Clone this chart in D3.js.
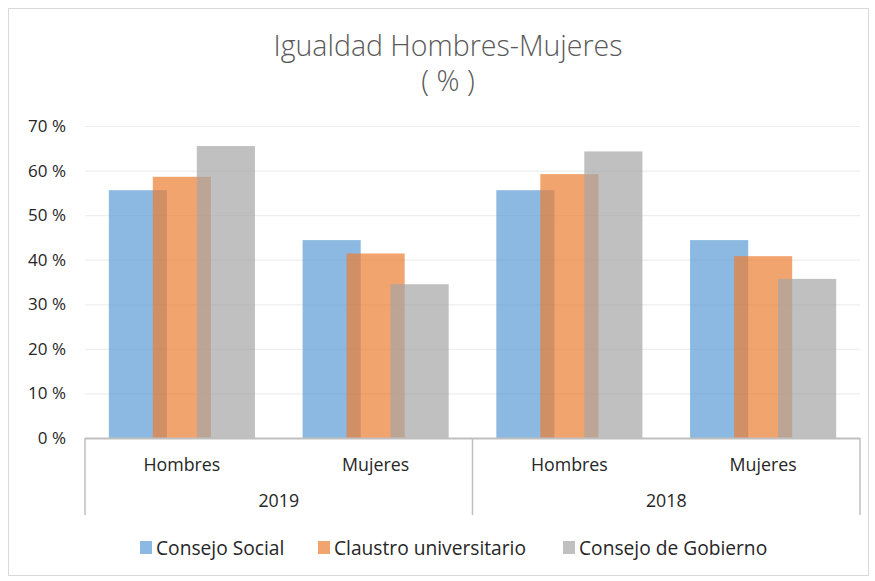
<!DOCTYPE html>
<html>
<head>
<meta charset="utf-8">
<script src="https://cdn.jsdelivr.net/npm/d3@7.9.0/dist/d3.min.js"></script>
<style>
  body { margin: 0; background: #fff; }
  text { font-family: "Open Sans", Lato, sans-serif; }
</style>
</head>
<body>
<div id="chart"></div>
<script>
// Values
const years = ["2019", "2018"];
const genders = ["Hombres", "Mujeres"];
const seriesNames = ["Consejo Social", "Claustro universitario", "Consejo de Gobierno"];
const consejoSocial = [55.6, 44.4, 55.6, 44.4];
const claustroUniversitario = [58.6, 41.4, 59.2, 40.8];
const consejoGobierno = [65.5, 34.5, 64.3, 35.7];
const yTicks = [0, 10, 20, 30, 40, 50, 60, 70];
const seriesColors = ["#5B9BD5", "#ED7D31", "#A5A5A5"];

const width = 875, height = 581;
const margin = { top: 126, right: 15, bottom: 143, left: 85 };

const svg = d3.select("#chart").append("svg")
  .attr("width", width)
  .attr("height", height);

// outer chart border
svg.append("rect")
  .attr("x", 8.5).attr("y", 8.5)
  .attr("width", 860).attr("height", 567)
  .attr("fill", "#fff")
  .attr("stroke", "#D9D9D9");

// title
svg.append("text")
  .attr("x", 448).attr("y", 56)
  .attr("text-anchor", "middle")
  .attr("fill", "#595959")
  .style("font-size", "28.5px")
  .style("font-weight", 300)
  .text("Igualdad Hombres-Mujeres");
svg.append("text")
  .attr("x", 448).attr("y", 91)
  .attr("text-anchor", "middle")
  .attr("fill", "#595959")
  .style("font-size", "28.5px")
  .style("font-weight", 300)
  .text("( % )");

// categories: year x gender
const categories = years.flatMap(y => genders.map(g => ({ year: y, gender: g, key: y + "|" + g })));

const x = d3.scaleBand()
  .domain(categories.map(d => d.key))
  .range([margin.left, width - margin.right])
  .padding(0);

const y = d3.scaleLinear()
  .domain([0, 70])
  .range([height - margin.bottom, margin.top]);

// gridlines
svg.append("g")
  .selectAll("line")
  .data(yTicks.filter(t => t > 0))
  .join("line")
  .attr("x1", margin.left).attr("x2", width - margin.right)
  .attr("y1", d => y(d) + 0.5).attr("y2", d => y(d) + 0.5)
  .attr("stroke", "#EEEEEE")
  .attr("stroke-width", 1.2);

// y axis labels
const yAxis = svg.append("g")
  .attr("transform", `translate(${margin.left},0)`)
  .call(d3.axisLeft(y).tickValues(yTicks).tickSize(0).tickPadding(19).tickFormat(d => d + " %"));
yAxis.select(".domain").remove();
yAxis.selectAll("text")
  .attr("fill", "#262626")
  .style("font-family", "'Open Sans', sans-serif")
  .style("font-size", "17px");

// bars
const allSeries = [consejoSocial, claustroUniversitario, consejoGobierno];
const bw = x.bandwidth();
const barW = bw * 0.30;
const step = bw * 0.227;

allSeries.forEach((vals, i) => {
  svg.append("g")
    .selectAll("rect")
    .data(categories.map((c, j) => ({ key: c.key, value: vals[j] })))
    .join("rect")
    .attr("x", d => x(d.key) + bw / 2 + (i - 1) * step - barW / 2)
    .attr("width", barW)
    .attr("y", d => y(d.value))
    .attr("height", d => y(0) - y(d.value))
    .attr("fill", seriesColors[i])
    .attr("fill-opacity", 0.7);
});

// category axis
const axisY = y(0);
svg.append("line")
  .attr("x1", margin.left).attr("x2", width - margin.right)
  .attr("y1", axisY + 0.5).attr("y2", axisY + 0.5)
  .attr("stroke", "#BFBFBF")
  .attr("stroke-width", 2);

const sepBottom = 515;
const separators = [x(categories[0].key), x(categories[2].key), x(categories[3].key) + bw];
svg.append("g")
  .selectAll("line")
  .data(separators)
  .join("line")
  .attr("x1", d => d).attr("x2", d => d)
  .attr("y1", axisY).attr("y2", sepBottom)
  .attr("stroke", "#BFBFBF")
  .attr("stroke-width", 1.5);

svg.append("g")
  .selectAll("text")
  .data(categories)
  .join("text")
  .attr("x", d => x(d.key) + bw / 2)
  .attr("y", 471)
  .attr("text-anchor", "middle")
  .attr("fill", "#262626")
  .style("font-size", "17.8px")
  .text(d => d.gender);

svg.append("g")
  .selectAll("text")
  .data(years)
  .join("text")
  .attr("x", (d, i) => x(categories[i * 2].key) + bw)
  .attr("y", 507)
  .attr("text-anchor", "middle")
  .attr("fill", "#262626")
  .style("font-size", "17.8px")
  .text(d => d);

// legend
const legendX = [140, 318, 563];
const legend = svg.append("g")
  .selectAll("g")
  .data(seriesNames)
  .join("g")
  .attr("transform", (d, i) => `translate(${legendX[i]},541)`);
legend.append("rect")
  .attr("width", 12).attr("height", 13)
  .attr("fill", (d, i) => seriesColors[i])
  .attr("fill-opacity", 0.7);
legend.append("text")
  .attr("x", 16).attr("y", 13.5)
  .attr("fill", "#262626")
  .style("font-size", "19.2px")
  .text(d => d);
</script>
</body>
</html>
